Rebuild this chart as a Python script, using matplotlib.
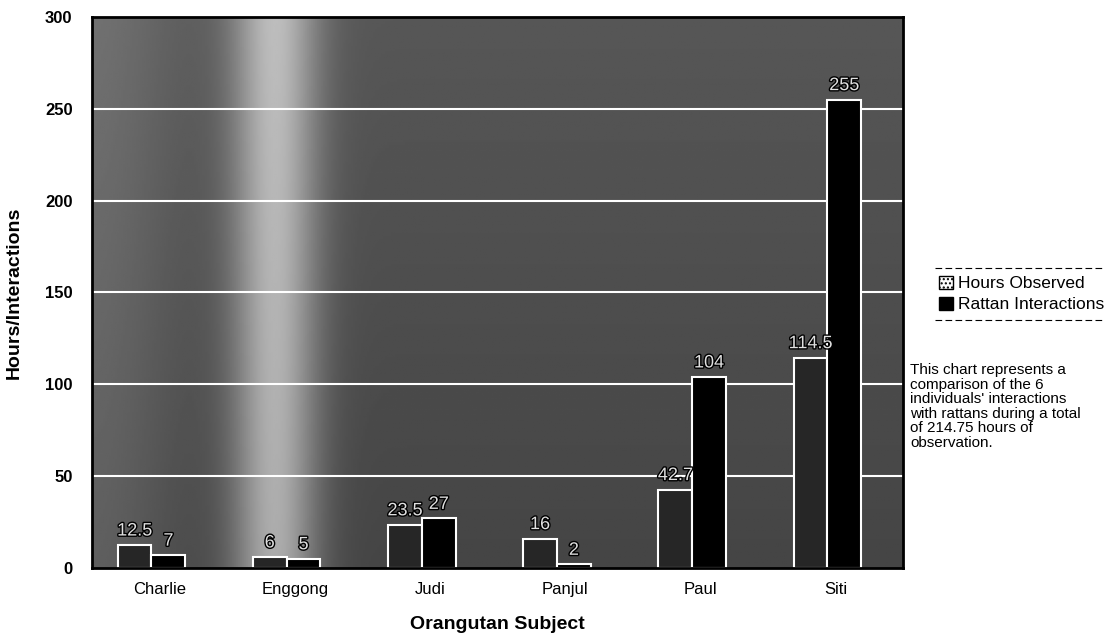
import numpy as np
import matplotlib.pyplot as plt
import matplotlib.patheffects as pe
from matplotlib.patches import Patch

subjects = ["Charlie", "Enggong", "Judi", "Panjul", "Paul", "Siti"]
hours_observed = [12.5, 6, 23.5, 16, 42.7, 114.5]
rattan_interactions = [7, 5, 27, 2, 104, 255]
hour_labels = ["12.5", "6", "23.5", "16", "42.7", "114.5"]
rattan_labels = ["7", "5", "27", "2", "104", "255"]

plt.rcParams['font.family'] = ['Liberation Sans', 'DejaVu Sans']

fig = plt.figure(figsize=(11.05, 6.38), dpi=100)
ax = fig.add_axes([92 / 1105, 1 - 568 / 638, 811 / 1105, 551 / 638])

# background shading (scanned grey fill with a lighter band near Enggong)
xs = np.linspace(-0.5, 5.5, 400)
ys = np.linspace(0, 300, 200)
X, Y = np.meshgrid(xs, ys)
shade = 0.27 + 0.07 * (Y / 300) + 0.4 * np.exp(-((X - 0.85) / 0.32) ** 2) \
    + 0.1 * np.exp(-((X + 0.5) / 0.6) ** 2)
ax.imshow(shade, extent=[-0.5, 5.5, 0, 300], origin='lower', cmap='gray',
          vmin=0, vmax=1, aspect='auto', zorder=0)

for v in range(50, 300, 50):
    ax.axhline(v, color='white', lw=1.5, zorder=1)

x = np.arange(len(subjects))
w = 0.25
b1 = ax.bar(x - w / 2 - 0.06, hours_observed, w, color='#262626', edgecolor='white', lw=1.5, zorder=2)
b2 = ax.bar(x + w / 2 - 0.06, rattan_interactions, w, color='black', edgecolor='white', lw=1.5, zorder=2)

stroke = [pe.withStroke(linewidth=2, foreground='black')]
for xi, v, t in zip(x, hours_observed, hour_labels):
    ax.text(xi - w / 2 - 0.06, v + 3, t, ha='center', va='bottom', fontsize=13,
            color='#e0e0e0', path_effects=stroke, zorder=3)
for xi, v, t in zip(x, rattan_interactions, rattan_labels):
    ax.text(xi + w / 2 - 0.06, v + 3, t, ha='center', va='bottom', fontsize=13,
            color='#e0e0e0', path_effects=stroke, zorder=3)

ax.set_xlim(-0.5, 5.5)
ax.set_ylim(0, 300)
ax.set_yticks(range(0, 301, 50))
ax.set_xticks(x)
ax.set_xticklabels(subjects, fontsize=12)
ax.tick_params(axis='y', labelsize=12, length=0, pad=14)
ax.tick_params(axis='x', length=0, pad=10)
for lbl in ax.get_yticklabels():
    lbl.set_fontweight('bold')
for s in ax.spines.values():
    s.set_linewidth(2)
    s.set_color('black')

ax.set_ylabel("Hours/Interactions", fontsize=14, fontweight='bold', labelpad=16)
ax.set_xlabel("Orangutan Subject", fontsize=14, fontweight='bold', labelpad=14)

handles = [Patch(facecolor='white', edgecolor='black', hatch='....'),
           Patch(facecolor='black', edgecolor='black')]
leg = fig.legend(handles, ["Hours Observed", "Rattan Interactions"],
                 loc='center left', bbox_to_anchor=(932 / 1105, 1 - 294 / 638),
                 fontsize=12.5, frameon=False, handlelength=0.8, handleheight=0.8,
                 handletextpad=0.3, labelspacing=0.3, borderaxespad=0)
fig.add_artist(plt.Line2D([935 / 1105, 1.0], [1 - 268 / 638] * 2, color='black', lw=0.8, ls=(0, (6, 3))))
fig.add_artist(plt.Line2D([935 / 1105, 1.0], [1 - 320 / 638] * 2, color='black', lw=0.8, ls=(0, (6, 3))))

fig.text(910 / 1105, 1 - 363 / 638,
         "This chart represents a\ncomparison of the 6\nindividuals' interactions\n"
         "with rattans during a total\nof 214.75 hours of\nobservation.",
         fontsize=11, va='top', ha='left', linespacing=1.05)

fig.savefig("out.png", dpi=100)
